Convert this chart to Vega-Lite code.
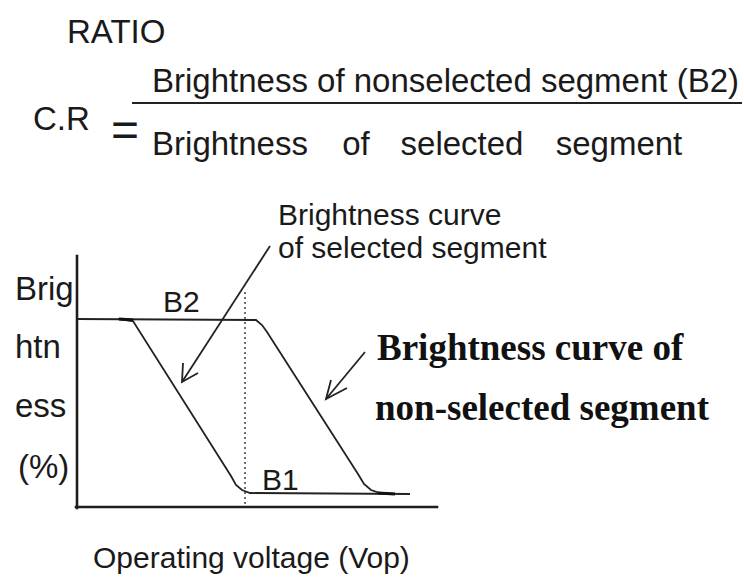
{
  "$schema": "https://vega.github.io/schema/vega-lite/v6.json",
  "width": 744,
  "height": 580,
  "padding": 0,
  "autosize": {"type": "none"},
  "background": "white",
  "config": {"view": {"stroke": null}},
  "datasets": {
    "lines": [
      {"g": "axis", "id": "yaxis", "i": 0, "x": 77, "y": 256},
      {"g": "axis", "id": "yaxis", "i": 1, "x": 77, "y": 508},
      {"g": "axis", "id": "xaxis", "i": 0, "x": 76, "y": 507},
      {"g": "axis", "id": "xaxis", "i": 1, "x": 437, "y": 507},
      {"g": "curve", "id": "sel", "i": 0, "x": 118, "y": 319},
      {"g": "curve", "id": "sel", "i": 1, "x": 133, "y": 321},
      {"g": "curve", "id": "sel", "i": 2, "x": 231, "y": 476},
      {"g": "curve", "id": "sel", "i": 3, "x": 236, "y": 485},
      {"g": "curve", "id": "sel", "i": 4, "x": 242, "y": 490},
      {"g": "curve", "id": "sel", "i": 5, "x": 250, "y": 493},
      {"g": "curve", "id": "sel", "i": 6, "x": 410, "y": 494},
      {"g": "curve", "id": "non", "i": 0, "x": 77, "y": 319},
      {"g": "curve", "id": "non", "i": 1, "x": 256, "y": 320},
      {"g": "curve", "id": "non", "i": 2, "x": 262, "y": 325},
      {"g": "curve", "id": "non", "i": 3, "x": 267, "y": 332},
      {"g": "curve", "id": "non", "i": 4, "x": 358, "y": 474},
      {"g": "curve", "id": "non", "i": 5, "x": 364, "y": 484},
      {"g": "curve", "id": "non", "i": 6, "x": 371, "y": 490},
      {"g": "curve", "id": "non", "i": 7, "x": 380, "y": 493},
      {"g": "curve", "id": "non", "i": 8, "x": 395, "y": 494},
      {"g": "curve", "id": "frac", "i": 0, "x": 132, "y": 103},
      {"g": "curve", "id": "frac", "i": 1, "x": 742, "y": 103},
      {"g": "curve", "id": "ptr1", "i": 0, "x": 270, "y": 246},
      {"g": "curve", "id": "ptr1", "i": 1, "x": 182, "y": 382},
      {"g": "curve", "id": "head1", "i": 0, "x": 183, "y": 363},
      {"g": "curve", "id": "head1", "i": 1, "x": 182, "y": 382},
      {"g": "curve", "id": "head1", "i": 2, "x": 198, "y": 373},
      {"g": "curve", "id": "ptr2", "i": 0, "x": 365, "y": 352},
      {"g": "curve", "id": "ptr2", "i": 1, "x": 326, "y": 399},
      {"g": "curve", "id": "head2", "i": 0, "x": 331, "y": 380},
      {"g": "curve", "id": "head2", "i": 1, "x": 326, "y": 399},
      {"g": "curve", "id": "head2", "i": 2, "x": 347, "y": 388},
      {"g": "thick", "id": "t1", "i": 0, "x": 119, "y": 319},
      {"g": "thick", "id": "t1", "i": 1, "x": 133, "y": 320},
      {"g": "thick", "id": "t2", "i": 0, "x": 378, "y": 493},
      {"g": "thick", "id": "t2", "i": 1, "x": 395, "y": 494},
      {"g": "dotted", "id": "vop", "i": 0, "x": 245, "y": 292},
      {"g": "dotted", "id": "vop", "i": 1, "x": 245, "y": 507}
    ],
    "texts": [
      {"role": "big", "t": "RATIO", "x": 67, "y": 43},
      {"role": "big", "t": "C.R", "x": 33, "y": 130},
      {"role": "big", "t": "Brightness of nonselected segment (B2)", "x": 152, "y": 92},
      {"role": "big", "t": "Brig", "x": 15, "y": 300},
      {"role": "big", "t": "htn", "x": 15, "y": 358},
      {"role": "big", "t": "ess", "x": 15, "y": 417},
      {"role": "big", "t": "(%)", "x": 18, "y": 478},
      {"role": "denom", "t": "Brightness", "x": 230, "y": 155},
      {"role": "denom", "t": "of", "x": 356, "y": 155},
      {"role": "denom", "t": "selected", "x": 462, "y": 155},
      {"role": "denom", "t": "segment", "x": 619, "y": 155},
      {"role": "equals", "t": "=", "x": 125, "y": 146},
      {"role": "note", "t": "Brightness curve", "x": 278, "y": 225},
      {"role": "note", "t": "of selected segment", "x": 278, "y": 258},
      {"role": "marker", "t": "B2", "x": 163, "y": 312},
      {"role": "marker", "t": "B1", "x": 262, "y": 490},
      {"role": "marker", "t": "Operating voltage (Vop)", "x": 93, "y": 568},
      {"role": "callout", "t": "Brightness curve of", "x": 377, "y": 360},
      {"role": "callout", "t": "non-selected segment", "x": 375, "y": 420}
    ]
  },
  "encoding": {
    "x": {"field": "x", "type": "quantitative", "scale": {"domain": [0, 744], "nice": false, "zero": false}, "axis": null},
    "y": {"field": "y", "type": "quantitative", "scale": {"domain": [580, 0], "nice": false, "zero": false}, "axis": null}
  },
  "layer": [
    {
      "data": {"name": "lines"},
      "transform": [{"filter": "datum.g === 'axis'"}],
      "mark": {"type": "line", "color": "#1e1e1e", "strokeWidth": 2.6, "strokeCap": "square"},
      "encoding": {"detail": {"field": "id"}, "order": {"field": "i", "type": "quantitative"}}
    },
    {
      "data": {"name": "lines"},
      "transform": [{"filter": "datum.g === 'curve'"}],
      "mark": {"type": "line", "color": "#222222", "strokeWidth": 1.8},
      "encoding": {"detail": {"field": "id"}, "order": {"field": "i", "type": "quantitative"}}
    },
    {
      "data": {"name": "lines"},
      "transform": [{"filter": "datum.g === 'thick'"}],
      "mark": {"type": "line", "color": "#111111", "strokeWidth": 3.2},
      "encoding": {"detail": {"field": "id"}, "order": {"field": "i", "type": "quantitative"}}
    },
    {
      "data": {"name": "lines"},
      "transform": [{"filter": "datum.g === 'dotted'"}],
      "mark": {"type": "line", "color": "#333333", "strokeWidth": 1.4, "strokeDash": [2, 3]},
      "encoding": {"detail": {"field": "id"}, "order": {"field": "i", "type": "quantitative"}}
    },
    {
      "data": {"name": "texts"},
      "transform": [{"filter": "datum.role === 'big'"}],
      "mark": {"type": "text", "align": "left", "baseline": "alphabetic", "font": "Liberation Sans", "fontSize": 33, "color": "#1a1a1a"},
      "encoding": {"text": {"field": "t"}}
    },
    {
      "data": {"name": "texts"},
      "transform": [{"filter": "datum.role === 'denom'"}],
      "mark": {"type": "text", "align": "center", "baseline": "alphabetic", "font": "Liberation Sans", "fontSize": 33, "color": "#1a1a1a"},
      "encoding": {"text": {"field": "t"}}
    },
    {
      "data": {"name": "texts"},
      "transform": [{"filter": "datum.role === 'equals'"}],
      "mark": {"type": "text", "align": "center", "baseline": "alphabetic", "font": "Liberation Sans", "fontSize": 48, "color": "#1a1a1a"},
      "encoding": {"text": {"field": "t"}}
    },
    {
      "data": {"name": "texts"},
      "transform": [{"filter": "datum.role === 'note'"}],
      "mark": {"type": "text", "align": "left", "baseline": "alphabetic", "font": "Liberation Sans", "fontSize": 30, "color": "#1a1a1a"},
      "encoding": {"text": {"field": "t"}}
    },
    {
      "data": {"name": "texts"},
      "transform": [{"filter": "datum.role === 'marker'"}],
      "mark": {"type": "text", "align": "left", "baseline": "alphabetic", "font": "Liberation Sans", "fontSize": 30, "color": "#1a1a1a"},
      "encoding": {"text": {"field": "t"}}
    },
    {
      "data": {"name": "texts"},
      "transform": [{"filter": "datum.role === 'callout'"}],
      "mark": {"type": "text", "align": "left", "baseline": "alphabetic", "font": "Liberation Serif", "fontWeight": "bold", "fontSize": 37, "color": "#111111"},
      "encoding": {"text": {"field": "t"}}
    }
  ]
}
